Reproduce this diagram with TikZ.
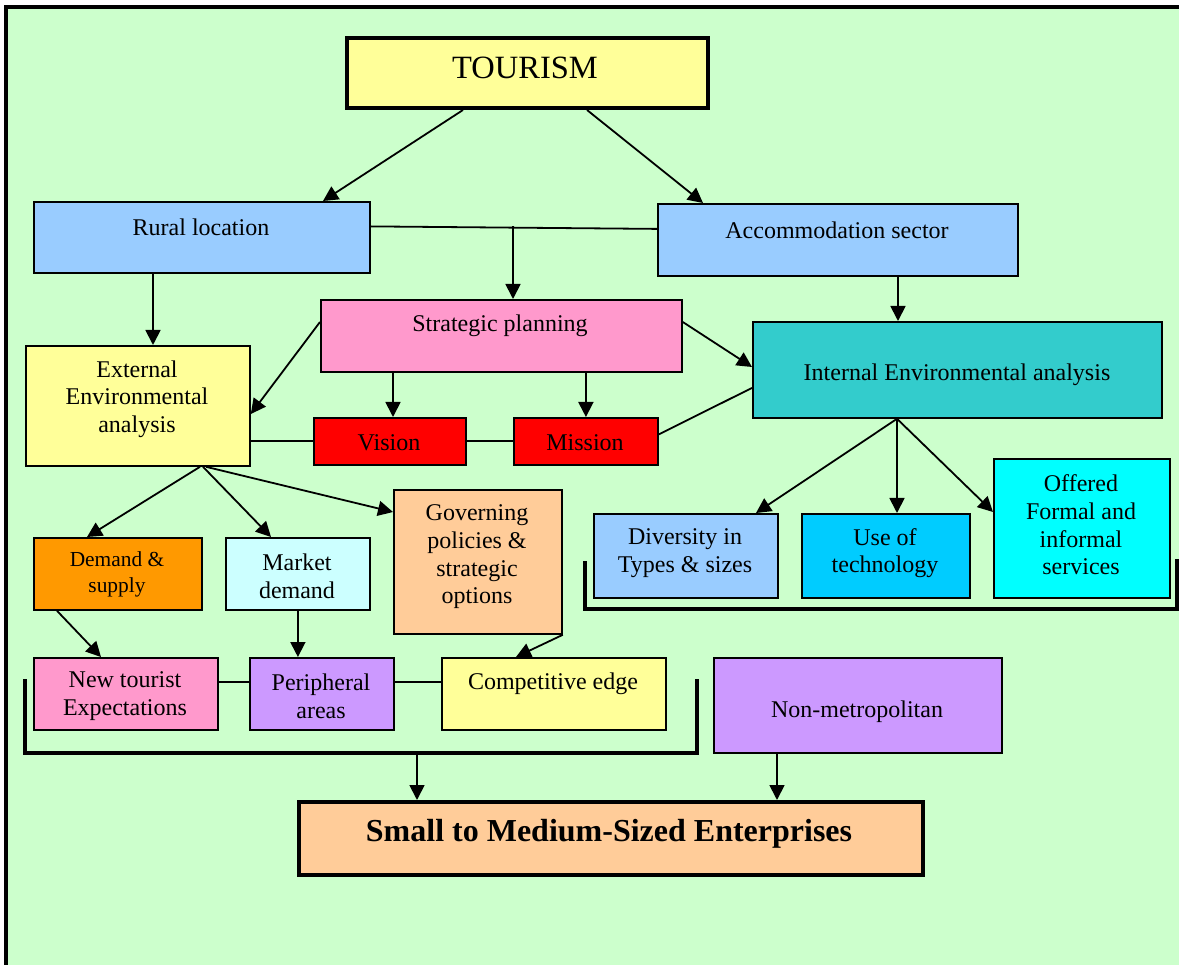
\documentclass[tikz,border=0pt]{standalone}
\usepackage{fontspec}
\setmainfont{Liberation Serif}
\usetikzlibrary{arrows.meta}
\definecolor{bgc}{HTML}{CCFFCC}
\definecolor{cyel}{HTML}{FFFF99}
\definecolor{cblue}{HTML}{99CCFF}
\definecolor{cpink}{HTML}{FF99CC}
\definecolor{cteal}{HTML}{33CCCC}
\definecolor{cred}{HTML}{FF0000}
\definecolor{corange}{HTML}{FF9900}
\definecolor{clcyan}{HTML}{CCFFFF}
\definecolor{cpeach}{HTML}{FFCC99}
\definecolor{csky}{HTML}{00CCFF}
\definecolor{ccyan}{HTML}{00FFFF}
\definecolor{cviolet}{HTML}{CC99FF}
\tikzset{
  box/.style={draw=black, line width=1.8pt, inner sep=0pt, anchor=north west},
  txt/.style={inner sep=0pt, align=center, font=\fontsize{24}{27.6}\selectfont},
  smalltxt/.style={inner sep=0pt, align=center, font=\fontsize{21.4}{26}\selectfont},
  arr/.style={line width=1.8pt, -{Triangle[length=15pt,width=15pt]}},
  conn/.style={line width=1.8pt},
  brk/.style={line width=3.5pt, line cap=rect}
}
\begin{document}
\begin{tikzpicture}[x=1pt,y=-1pt]
\useasboundingbox (0,0) rectangle (1179,965);
\fill[white] (0,0) rectangle (1179,965);
\fill[bgc] (6,7) rectangle (1179,965);
\draw[line width=3.5pt] (6,965) -- (6,7) -- (1179,7);

% boxes
\node[box, line width=4pt, fill=cyel, minimum width=361pt, minimum height=70pt] (tour) at (345,36) {};
\node[txt, font=\fontsize{32.5}{36}\selectfont] (tour-t) at (525,68) {TOURISM};

\node[box, fill=cblue, minimum width=336pt, minimum height=71pt] (rural) at (33,201) {};
\node[txt] (rural-t) at (201,227) {Rural location};

\node[box, fill=cblue, minimum width=360pt, minimum height=72pt] (acc) at (657,203) {};
\node[txt] (acc-t) at (837,230) {Accommodation sector};

\node[box, fill=cpink, minimum width=361pt, minimum height=72pt] (strat) at (320,299) {};
\node[txt] (strat-t) at (500,326) {Strategic planning};

\node[box, fill=cyel, minimum width=224pt, minimum height=120pt] (ext) at (25,345) {};
\node[txt] (ext-t) at (137,399) {External\\Environmental\\analysis};

\node[box, fill=cteal, minimum width=409pt, minimum height=96pt] (int) at (752,321) {};
\node[txt] (int-t) at (957,375) {Internal Environmental analysis};

\node[box, fill=cred, minimum width=152pt, minimum height=47pt] (vis) at (313,417) {};
\node[txt] (vis-t) at (389,443) {Vision};

\node[box, fill=cred, minimum width=144pt, minimum height=47pt] (mis) at (513,417) {};
\node[txt] (mis-t) at (585,443) {Mission};

\node[box, fill=corange, minimum width=168pt, minimum height=72pt] (ds) at (33,537) {};
\node[smalltxt] (ds-t) at (117,574) {Demand \&\\supply};

\node[box, fill=clcyan, minimum width=144pt, minimum height=72pt] (md) at (225,537) {};
\node[txt] (md-t) at (297,576) {Market\\demand};

\node[box, fill=cpeach, minimum width=168pt, minimum height=144pt] (gov) at (393,489) {};
\node[txt] (gov-t) at (477,557) {Governing\\policies \&\\strategic\\options};

\node[box, fill=cblue, minimum width=184pt, minimum height=84pt] (div) at (593,513) {};
\node[txt] (div-t) at (685,553) {Diversity in\\Types \& sizes};

\node[box, fill=csky, minimum width=168pt, minimum height=84pt] (use) at (801,513) {};
\node[txt] (use-t) at (885,553) {Use of\\technology};

\node[box, fill=ccyan, minimum width=176pt, minimum height=139pt] (off) at (993,458) {};
\node[txt] (off-t) at (1081,525) {Offered\\Formal and\\informal\\services};

\node[box, fill=cpink, minimum width=184pt, minimum height=72pt] (nt) at (33,657) {};
\node[txt] (nt-t) at (125,696) {New tourist\\Expectations};

\node[box, fill=cviolet, minimum width=144pt, minimum height=72pt] (peri) at (249,657) {};
\node[txt] (peri-t) at (321,696) {Peripheral\\areas};

\node[box, fill=cyel, minimum width=224pt, minimum height=72pt] (ce) at (441,657) {};
\node[txt] (ce-t) at (553,684) {Competitive edge};

\node[box, line width=2.4pt, fill=cviolet, minimum width=288pt, minimum height=95pt] (nm) at (713,657) {};
\node[txt] (nm-t) at (857,712) {Non-metropolitan};

\node[box, line width=4pt, fill=cpeach, minimum width=624pt, minimum height=73pt] (sme) at (297,800) {};
\node[txt, font=\fontsize{32}{36}\selectfont\bfseries] (sme-t) at (609,834) {Small to Medium-Sized Enterprises};

% brackets
\coordinate (bla) at (25,681);
\coordinate (blb) at (25,753);
\coordinate (blc) at (697,753);
\coordinate (bld) at (697,681);
\draw[brk] (bla) -- (blb) -- (blc) -- (bld);
\coordinate (bra) at (585,563);
\coordinate (brb) at (585,609);
\coordinate (brc) at (1177,609);
\coordinate (brd) at (1177,561);
\draw[brk] (bra) -- (brb) -- (brc) -- (brd);
\coordinate (bl) at (417,753);
\coordinate (j1) at (513,226.5);

% connectors
\draw[arr] ([xshift=118pt]tour.south west) -- ([xshift=290pt]rural.north west);
\draw[arr] ([xshift=242pt]tour.south west) -- ([xshift=46pt]acc.north west);
\draw[conn] ([yshift=11pt]rural.east) -- ([yshift=11pt]acc.west);
\draw[arr] (j1) -- (j1 |- strat.north);
\draw[arr] ([xshift=120pt]rural.south west) -- ([xshift=128pt]ext.north west);
\draw[arr] ([xshift=241pt]acc.south west) -- ([xshift=146pt]int.north west);
\draw[arr] ([yshift=-23pt]strat.north west) -- ([yshift=-69pt]ext.north east);
\draw[arr] ([yshift=-23pt]strat.north east) -- ([yshift=-46pt]int.north west);
\draw[arr] ([xshift=80pt]vis.north west |- strat.south) -- ([xshift=80pt]vis.north west);
\draw[arr] (mis.north |- strat.south) -- (mis.north);
\draw[conn] (vis.west -| ext.east) -- (vis.west);
\draw[conn] (vis.east) -- (mis.west);
\draw[conn] ([yshift=7pt]mis.east) -- ([yshift=-18pt]int.west);
\draw[arr] ([xshift=175pt]ext.south west) -- ([xshift=54pt]ds.north west);
\draw[arr] ([xshift=178pt]ext.south west) -- ([xshift=46pt]md.north west);
\draw[arr] ([xshift=181pt]ext.south west) -- ([yshift=-23pt]gov.north west);
\draw[arr] ([xshift=145pt]int.south west) -- ([xshift=163pt]div.north west);
\draw[arr] ([xshift=145pt]int.south west) -- ([xshift=96pt]use.north west);
\draw[arr] ([xshift=145pt]int.south west) -- ([yshift=-54pt]off.north west);
\draw[arr] ([xshift=24pt]ds.south west) -- ([xshift=68pt]nt.north west);
\draw[arr] (md.south) -- (md.south |- peri.north);
\draw[arr] (gov.south east) -- ([xshift=75pt]ce.north west);
\draw[conn] ([yshift=12pt]nt.east) -- ([yshift=12pt]peri.west);
\draw[conn] ([yshift=12pt]peri.east) -- ([yshift=12pt]ce.west);
\draw[arr] (bl) -- (bl |- sme.north);
\draw[arr] ([xshift=64pt]nm.south west) -- ([xshift=64pt]nm.south west |- sme.north);
\end{tikzpicture}
\end{document}
